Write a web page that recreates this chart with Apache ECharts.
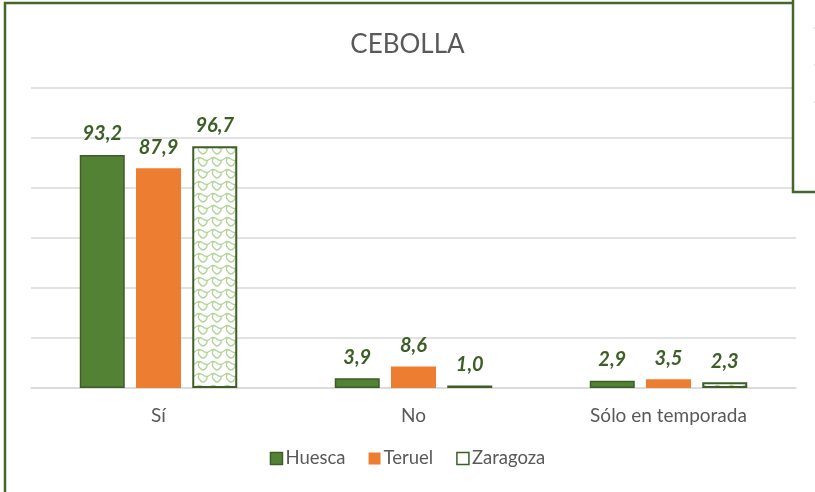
<!DOCTYPE html>
<html><head><meta charset="utf-8">
<script src="https://cdn.jsdelivr.net/npm/echarts@6/dist/echarts.min.js"></script>
<style>html,body{margin:0;padding:0;background:#fff}#c{width:815px;height:492px}</style>
</head><body><div id="c"></div>
<script>
const categories = ['Sí', 'No', 'Sólo en temporada'];
const huesca = [93.2, 3.9, 2.9];
const teruel = [87.9, 8.6, 3.5];
const zaragoza = [96.7, 1.0, 2.3];
const seriesNames = ['Huesca', 'Teruel', 'Zaragoza'];

const FONT = 'Lato, "Open Sans", sans-serif';
const dark = '#3d5f26';

function makePattern() {
  const c = document.createElement('canvas');
  c.width = 14; c.height = 12;
  const g = c.getContext('2d');
  g.fillStyle = '#ffffff'; g.fillRect(0, 0, 14, 12);
  g.strokeStyle = '#b2d498'; g.lineWidth = 1.3;
  g.beginPath();
  g.moveTo(0, 3); g.quadraticCurveTo(3.5, 0, 7, 3); g.quadraticCurveTo(10.5, 6, 14, 3);
  g.moveTo(3.5, 1.5); g.quadraticCurveTo(1, 6, 4, 8); g.quadraticCurveTo(7, 12, 10, 8); g.quadraticCurveTo(12, 6, 10.5, 4.5);
  g.stroke();
  return c;
}
const pattern = makePattern();

const labelFmt = p => p.value.toFixed(1).replace('.', ',');
const label = { show: true, position: 'top', distance: 11, formatter: labelFmt,
  fontFamily: FONT, fontSize: 20, fontWeight: 'bold', fontStyle: 'italic', color: dark };

const chart = echarts.init(document.getElementById('c'), null, { renderer: 'canvas' });
chart.setOption({
  animation: false,
  title: { text: 'CEBOLLA', left: 'center', top: 27,
    textStyle: { fontFamily: FONT, fontSize: 26, fontWeight: 'normal', color: '#595959' } },
  grid: { left: 31, right: 19, top: 88, bottom: 104, containLabel: false },
  legend: { bottom: 19, left: 'center', itemWidth: 12, itemHeight: 12, itemGap: 23,
    textStyle: { fontFamily: FONT, fontSize: 18.5, color: '#595959', padding: [0, 0, 0, -2] },
    data: [
      { name: 'Huesca', icon: 'rect', itemStyle: { color: '#548235', borderColor: dark, borderWidth: 1.5 } },
      { name: 'Teruel', icon: 'rect', itemStyle: { color: '#ED7D31', borderWidth: 0 } },
      { name: 'Zaragoza', icon: 'rect', itemStyle: { color: '#ffffff', borderColor: dark, borderWidth: 1.5 } }
    ] },
  xAxis: { type: 'category', data: categories,
    axisLine: { lineStyle: { color: '#d9d9d9', width: 1.5 } }, axisTick: { show: false },
    axisLabel: { fontFamily: FONT, fontSize: 19, color: '#595959', margin: 18 } },
  yAxis: { type: 'value', min: 0, max: 120, interval: 20,
    axisLabel: { show: false }, axisLine: { show: false }, axisTick: { show: false },
    splitLine: { lineStyle: { color: '#d9d9d9', width: 1.5 } } },
  series: [
    { name: seriesNames[0], type: 'bar', data: huesca, barWidth: 45, barGap: '25%', barCategoryGap: '38%',
      itemStyle: { color: '#548235', borderColor: dark, borderWidth: 1.5 }, label },
    { name: seriesNames[1], type: 'bar', data: teruel, barWidth: 45,
      itemStyle: { color: '#ED7D31' }, label },
    { name: seriesNames[2], type: 'bar', data: zaragoza, barWidth: 45,
      itemStyle: { color: { image: pattern, repeat: 'repeat' }, borderColor: dark, borderWidth: 2 }, label }
  ],
  graphic: [
    { type: 'rect', shape: { x: 5, y: 3, width: 900, height: 600 }, z: 100, silent: true,
      style: { fill: 'none', stroke: '#44662a', lineWidth: 2.5 } },
    { type: 'rect', shape: { x: 793, y: -10, width: 60, height: 202 }, z: 101, silent: true,
      style: { fill: '#ffffff', stroke: '#44662a', lineWidth: 2.5 } },
    { type: 'rect', shape: { x: 814, y: 27, width: 2, height: 2 }, z: 102, silent: true, style: { fill: '#dddddd' } },
    { type: 'rect', shape: { x: 814, y: 64, width: 2, height: 2 }, z: 102, silent: true, style: { fill: '#dddddd' } },
    { type: 'rect', shape: { x: 814, y: 101, width: 2, height: 2 }, z: 102, silent: true, style: { fill: '#dddddd' } }
  ]
});
</script>
</body></html>
